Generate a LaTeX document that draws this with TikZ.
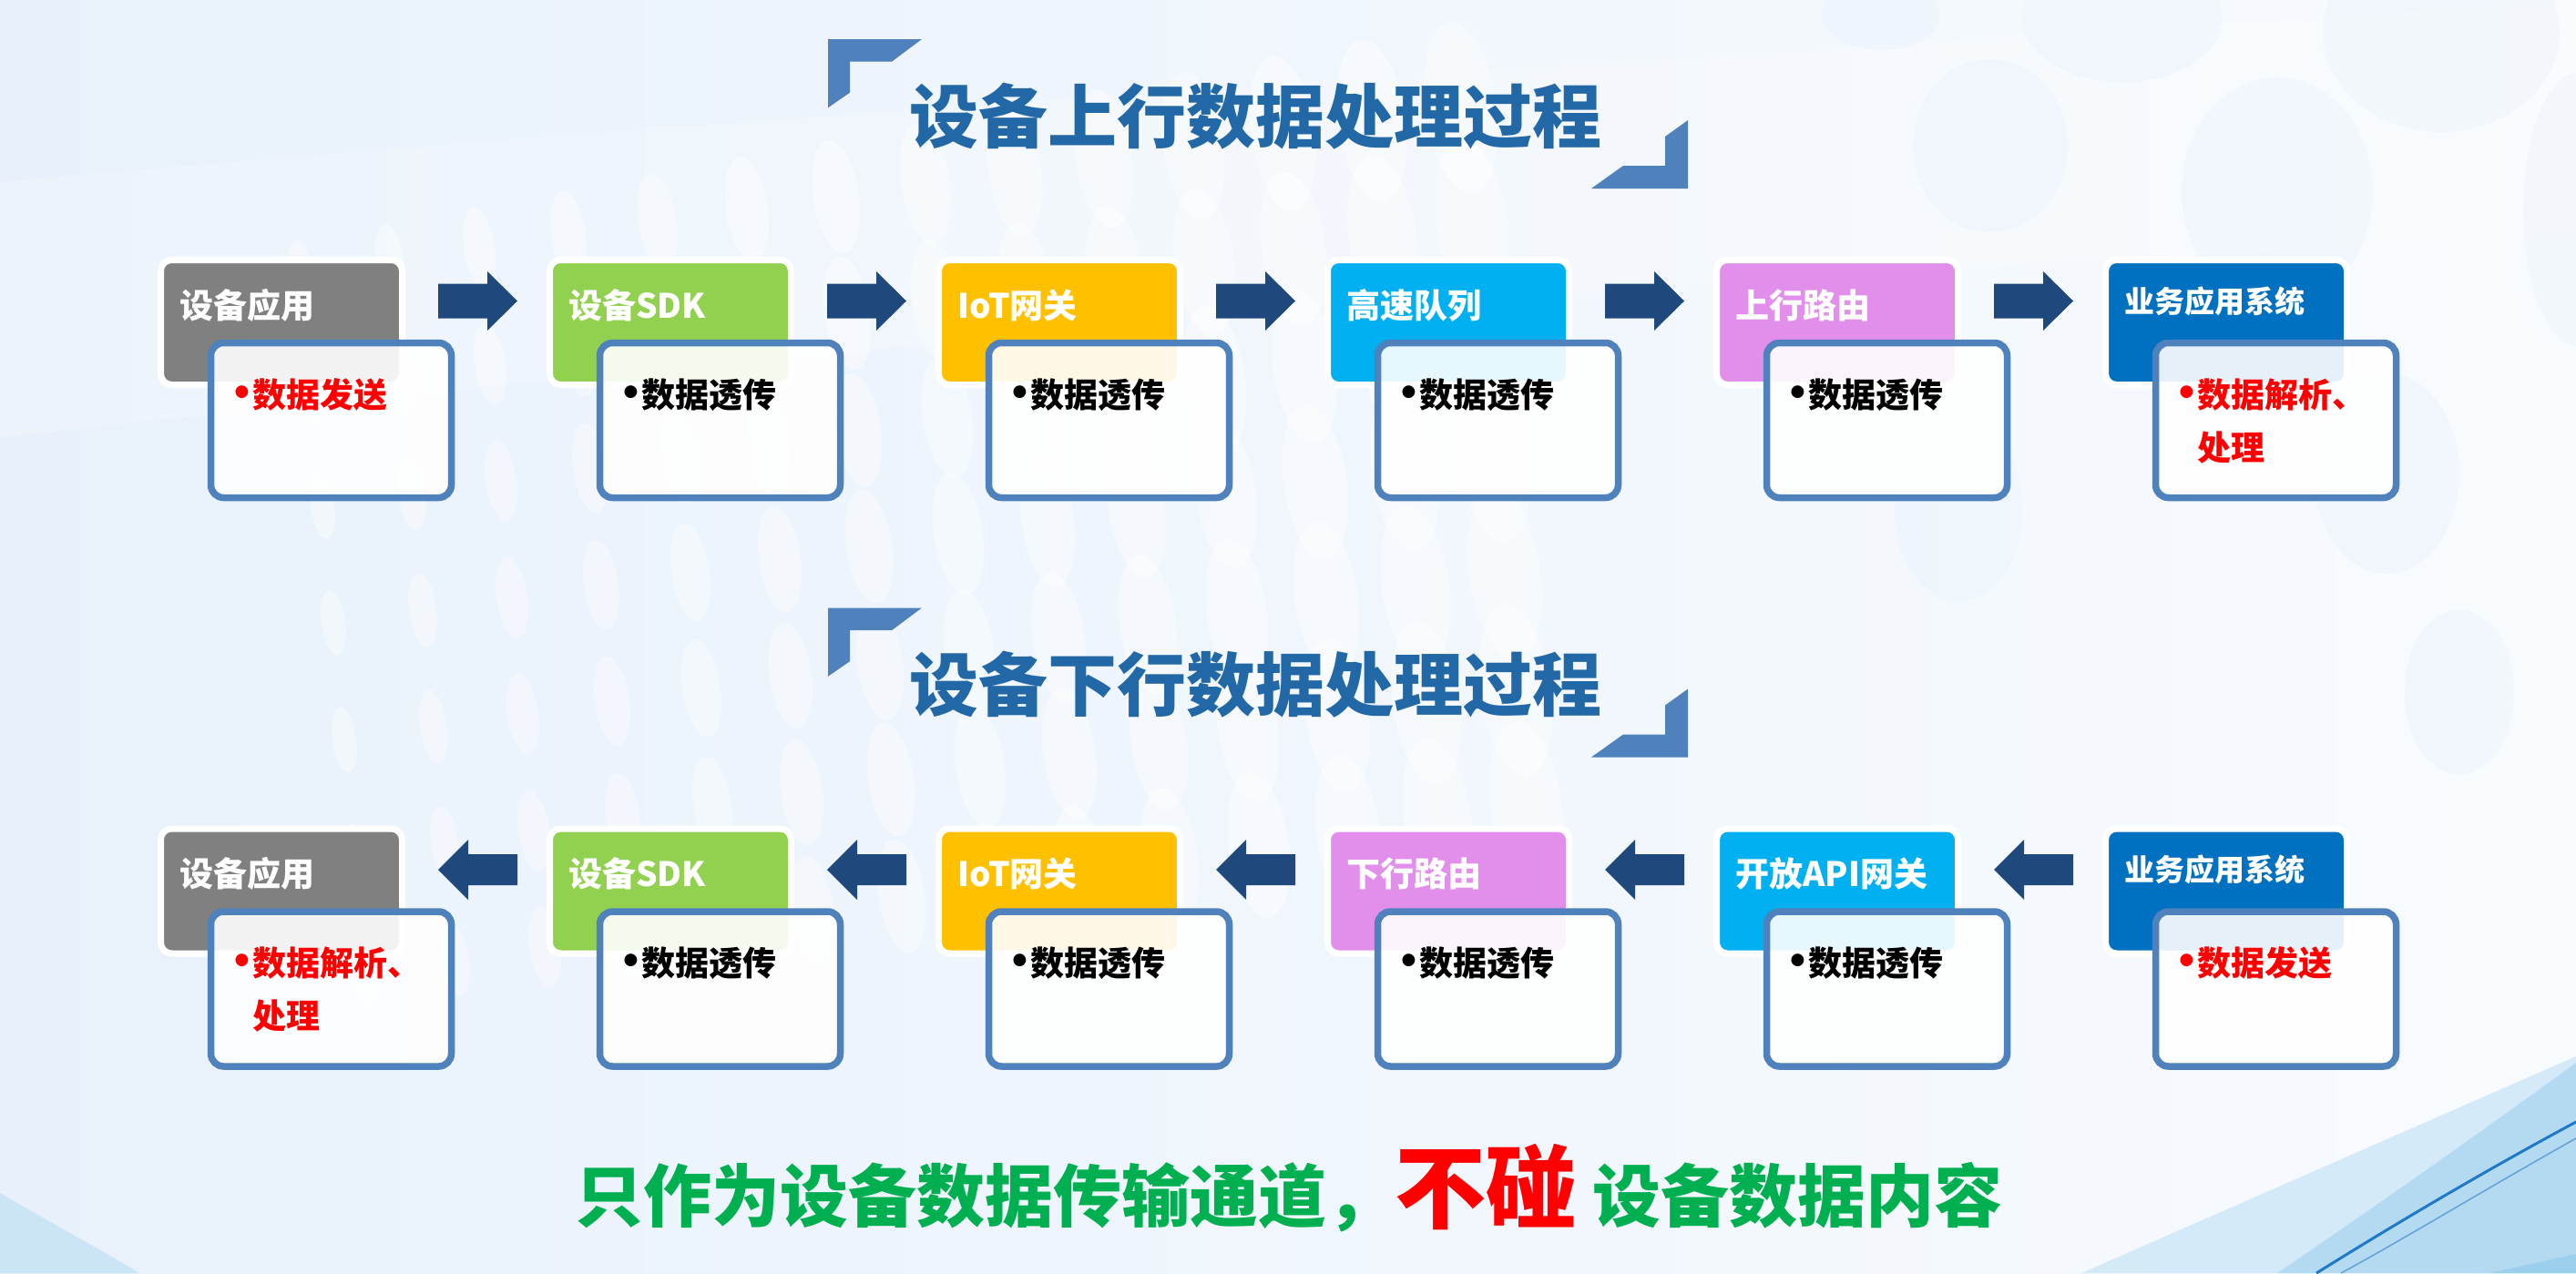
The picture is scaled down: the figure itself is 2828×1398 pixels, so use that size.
\documentclass[tikz,border=0pt]{standalone}
\usepackage{fontspec}
\setmainfont{Noto Sans CJK SC}
\newfontfamily\bulfont{Liberation Sans}
\usetikzlibrary{calc}
\definecolor{hgray}{HTML}{808080}
\definecolor{hgreen}{HTML}{92D050}
\definecolor{horange}{HTML}{FFC000}
\definecolor{hcyan}{HTML}{00B0F0}
\definecolor{hlilac}{HTML}{E28FEB}
\definecolor{hblue}{HTML}{0070C0}
\definecolor{bodyline}{HTML}{4F81BD}
\definecolor{arrowc}{HTML}{1F497D}
\definecolor{titlec}{HTML}{2368A6}
\definecolor{bracketc}{HTML}{4F81BD}
\definecolor{greent}{HTML}{00B050}
\definecolor{redt}{HTML}{FF0000}
\definecolor{bgA}{HTML}{E8F1FB}
\definecolor{bgB}{HTML}{F8FBFE}
\definecolor{swA}{HTML}{BFE0F4}
\definecolor{swB}{HTML}{8CC8EC}
\definecolor{swC}{HTML}{1F78C8}
\newcommand\mybul{{\bulfont\bfseries \raisebox{1pt}{\scalebox{1.3}{•}}}\hspace{3pt}}
\newcommand\mybulsp{\phantom{\mybul}}
\begin{document}
\begin{tikzpicture}[x=1pt,y=-1pt,
 hdr/.style={draw=white,line width=7pt,rounded corners=12pt,minimum width=265pt,minimum height=137pt,inner sep=0pt},
 bodybox/.style={draw=bodyline,line width=7.5pt,rounded corners=14pt,fill=white,fill opacity=0.9,minimum width=264pt,minimum height=170pt,inner sep=0pt},
 htext/.style={anchor=base west,inner sep=0pt,text=white},
 btext/.style={anchor=base west,inner sep=0pt,font=\fontsize{37}{58}\selectfont\bfseries},
 titletext/.style={anchor=base,inner sep=0pt,text=titlec,font=\fontsize{76}{90}\selectfont\bfseries},
 rarr/.pic={\fill[arrowc] (0,-19) -- (54,-19) -- (54,-32.5) -- (87,0) -- (54,32.5) -- (54,19) -- (0,19) -- cycle;},
 larr/.pic={\fill[arrowc] (0,0) -- (33,-33) -- (33,-17) -- (87,-17) -- (87,17) -- (33,17) -- (33,33) -- cycle;},
 bracket/.style={fill=bracketc}
]
\useasboundingbox (0,0) rectangle (2828,1398);
% background
\shade[left color=bgA,right color=bgB] (0,0) rectangle (2828,1398);
\fill[white,opacity=0.2] (0,200) .. controls (900,120) and (1900,60) .. (2828,0) -- (2828,260) .. controls (1900,300) and (900,380) .. (0,480) -- cycle;
\foreach \c in {0,...,13}{
  \foreach \r in {0,...,6}{
    \fill[white,opacity=0.4,rotate around={8:({330+\c*98+\r*12},{300+\r*128-\c*14})}] ({330+\c*98+\r*12},{300+\r*128-\c*14}) ellipse ({13+\c*2} and {36+\c*4.5});
  }
}
\foreach \p/\q/\ea/\eb in {2065/15/65/40,2330/20/110/70,2680/35/130/110,2185/160/85/95,2500/210/105/125,2830/230/60/150,2150/560/70/100,2620/520/80/110,2700/760/60/90}{
  \fill[bgA,opacity=0.35] (\p,\q) ellipse ({\ea} and {\eb});
}
\fill[swA,opacity=0.7] (0,1310) .. controls (60,1345) and (110,1372) .. (153,1398) -- (0,1398) -- cycle;
\fill[swA,opacity=0.6] (2828,1160) -- (2285,1398) -- (2828,1398) -- cycle;
\fill[swB,opacity=0.45] (2828,1167) .. controls (2700,1260) and (2600,1330) .. (2500,1398) -- (2828,1398) -- cycle;
\draw[swC,line width=3pt] (2828,1232) .. controls (2720,1290) and (2620,1350) .. (2543,1398);
\draw[swC!70,line width=1.5pt] (2828,1250) .. controls (2730,1305) and (2640,1360) .. (2570,1398);
\fill[swB,opacity=0.6] (2828,1377) -- (2733,1398) -- (2828,1398) -- cycle;
% titles with brackets
\foreach \s/\tt/\nm in {0/设备上行数据处理过程/up,624.5/设备下行数据处理过程/down}{
  \begin{scope}[yshift={-\s pt}]
    \fill[bracket] (909,43) -- (1012,43) -- (979,67.7) -- (933,67.7) -- (933,101.7) -- (909,118.3) -- cycle;
    \fill[bracket] (1853,132) -- (1853,207) -- (1747,207) -- (1782,182) -- (1828,182) -- (1828,150) -- cycle;
    \node[titletext] (title-\nm) at (1378,156) {\tt};
  \end{scope}
}
% row 1 (upstream)
\foreach \i/\c/\h/\hs/\hb/\t/\tc in {
 0/hgray/设备应用/37/349/{\mybul 数据发送}/redt,
 1/hgreen/设备SDK/37/349/{\mybul 数据透传}/black,
 2/horange/IoT网关/37/349/{\mybul 数据透传}/black,
 3/hcyan/高速队列/37/349/{\mybul 数据透传}/black,
 4/hlilac/上行路由/37/349/{\mybul 数据透传}/black,
 5/hblue/业务应用系统/33/343/{\vtop{\baselineskip=58pt\hbox{\mybul 数据解析、}\hbox{\mybulsp 处理}}}/redt}{
  \node[hdr,fill=\c] (u-h\i) at ({309+427*\i},354) {};
  \node[htext,font=\fontsize{\hs}{44}\selectfont\bfseries] (u-l\i) at ({197+427*\i},\hb) {\h};
  \node[bodybox] (u-b\i) at ({363.5+427*\i},461.5) {};
  \node[btext,text=\tc] (u-t\i) at ({257+427*\i},447) {\t};
}
\foreach \i in {0,...,4}{
  \pic at ({481+427*\i},330.5) {rarr};
}
% row 2 (downstream)
\foreach \i/\c/\h/\hs/\hb/\t/\tc in {
 0/hgray/设备应用/37/973.5/{\vtop{\baselineskip=58pt\hbox{\mybul 数据解析、}\hbox{\mybulsp 处理}}}/redt,
 1/hgreen/设备SDK/37/973.5/{\mybul 数据透传}/black,
 2/horange/IoT网关/37/973.5/{\mybul 数据透传}/black,
 3/hlilac/下行路由/37/973.5/{\mybul 数据透传}/black,
 4/hcyan/开放API网关/37/973.5/{\mybul 数据透传}/black,
 5/hblue/业务应用系统/33/967.5/{\mybul 数据发送}/redt}{
  \node[hdr,fill=\c] (d-h\i) at ({309+427*\i},978.5) {};
  \node[htext,font=\fontsize{\hs}{44}\selectfont\bfseries] (d-l\i) at ({197+427*\i},\hb) {\h};
  \node[bodybox] (d-b\i) at ({363.5+427*\i},1086) {};
  \node[btext,text=\tc] (d-t\i) at ({257+427*\i},1071.5) {\t};
}
\foreach \i in {0,...,4}{
  \pic at ({481+427*\i},955) {larr};
}
% footer
\node[anchor=base west,inner sep=0pt,text=greent,font=\fontsize{75}{90}\selectfont\bfseries] (footer) at (631,1341)
  {只作为设备数据传输通道，{\color{redt}\fontsize{100}{110}\selectfont 不碰} 设备数据内容};
\end{tikzpicture}
\end{document}
